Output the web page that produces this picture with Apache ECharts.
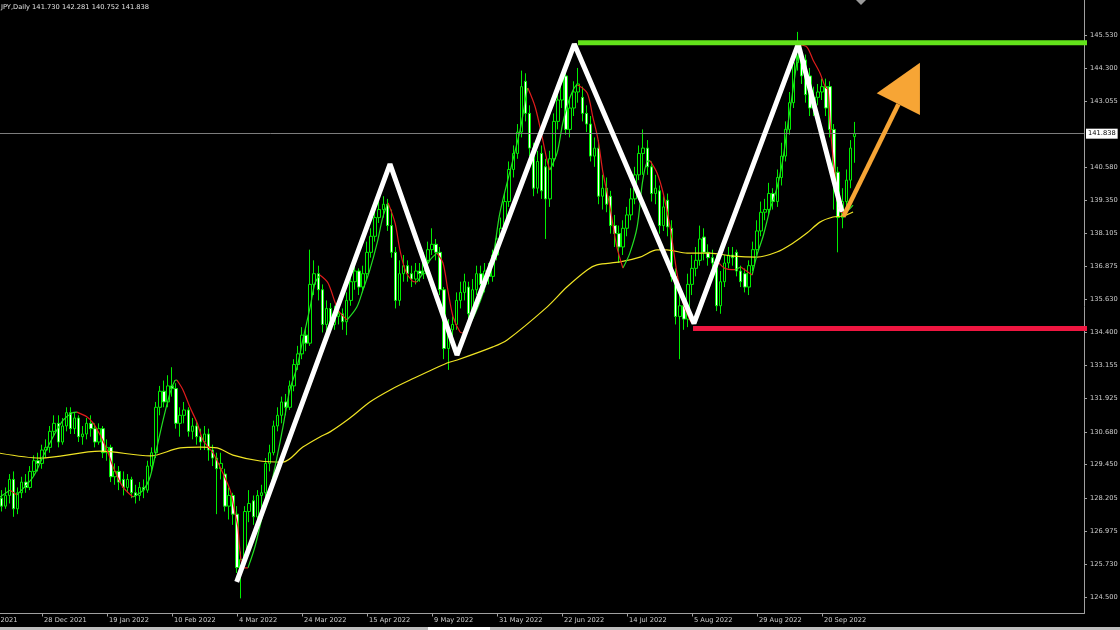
<!DOCTYPE html>
<html><head><meta charset="utf-8">
<script src="https://cdn.jsdelivr.net/npm/echarts@6/dist/echarts.min.js"></script>
<style>html,body{margin:0;padding:0;background:#000;}#c{width:1120px;height:630px;}</style>
</head><body><div id="c"></div>
<script>
// ---------- data ----------
const chartTitle = 'JPY,Daily 141.730 142.281 140.752 141.838';
const barCount = 273;            // bar slots across the plot (incl. empty right margin)
const firstBar = 6;              // index of the first candle in `candles`
const tickStep = 16;             // bars between date labels
const tickLabels = ['6 Dec 2021','28 Dec 2021','19 Jan 2022','10 Feb 2022','4 Mar 2022','24 Mar 2022',
  '15 Apr 2022','9 May 2022','31 May 2022','22 Jun 2022','14 Jul 2022','5 Aug 2022','29 Aug 2022','20 Sep 2022'];
const priceTicks = [124.5,125.73,126.975,128.205,129.45,130.68,131.925,133.155,134.4,135.63,136.875,
  138.105,139.35,140.58,143.055,144.3,145.53];
const lastPrice = 141.838;

// [open, close, low, high]
const candles = [
[128.2,127.9,127.7,128.5],[127.9,128.3,127.8,128.6],[128.3,128.9,128.0,129.1],[128.9,127.8,127.5,129.2],
[127.8,128.4,127.6,128.6],[128.4,128.8,128.2,129.0],[128.8,128.6,128.4,129.1],[128.6,129.2,128.5,129.4],
[129.2,129.6,129.0,129.8],[129.6,129.5,129.2,129.9],[129.5,130.0,129.3,130.2],[130.0,130.1,129.7,130.4],
[130.1,130.7,129.9,130.9],[130.7,131.0,130.5,131.3],[131.0,130.3,130.1,131.3],[130.3,130.9,130.2,131.2],
[130.9,131.4,130.7,131.6],[131.4,130.8,130.6,131.6],[130.8,131.2,130.6,131.4],[131.2,130.5,130.3,131.3],
[130.5,130.6,130.2,130.9],[130.6,131.0,130.4,131.2],[131.0,130.8,130.5,131.3],[130.8,130.3,130.1,131.0],
[130.3,130.8,130.2,131.0],[130.8,129.9,129.7,130.9],[129.9,130.1,129.6,130.4],[130.1,129.0,128.8,130.2],
[129.0,129.2,128.7,129.5],[129.2,128.8,128.5,129.4],[128.9,128.6,128.3,129.2],[128.6,128.9,128.4,129.1],
[128.9,128.4,128.2,129.0],[128.4,128.3,128.0,128.7],[128.3,128.6,128.1,128.8],[128.6,128.5,128.2,128.9],
[128.5,129.4,128.4,129.6],[129.4,129.9,129.2,130.1],[129.9,131.6,129.7,131.8],[131.6,132.2,131.3,132.4],
[132.2,131.8,131.6,132.6],[131.8,132.4,131.6,132.8],[132.4,132.3,132.0,133.1],[132.3,131.0,130.8,132.5],
[131.0,131.3,130.5,131.6],[131.3,131.5,131.0,131.8],[131.5,130.7,130.5,131.6],[130.7,130.9,130.4,131.2],
[130.9,130.5,130.2,131.1],[130.5,130.3,130.0,130.8],[130.3,130.6,130.0,130.9],[130.6,130.0,129.6,130.8],
[130.0,129.7,129.4,130.2],[129.7,129.3,127.6,129.9],[129.3,129.5,128.9,129.9],[129.1,127.9,127.7,129.3],
[127.9,128.3,127.4,128.6],[128.3,127.6,127.2,128.4],[127.6,125.6,125.4,127.9],[125.6,125.9,124.45,126.2],
[125.9,127.7,125.8,127.9],[127.7,128.0,127.3,128.5],[128.1,127.5,127.2,128.3],[127.5,128.3,127.3,128.5],
[128.3,128.4,127.8,128.7],[128.4,129.5,128.2,129.7],[129.5,129.9,129.2,130.2],[129.9,130.9,129.8,131.1],
[130.9,131.3,130.7,131.6],[131.3,131.8,131.0,132.0],[131.8,131.6,131.3,132.1],[131.6,132.4,131.5,132.6],
[132.4,133.2,132.2,133.4],[133.2,133.6,133.0,133.9],[133.6,134.3,133.4,134.6],[134.3,134.0,133.7,134.6],
[134.0,136.2,133.9,137.5],[136.2,136.6,135.8,137.1],[136.6,136.0,135.6,136.9],[136.0,134.7,134.4,136.2],
[134.7,135.3,134.3,135.6],[135.3,134.7,134.5,135.5],[134.7,135.0,134.5,135.4],[135.0,135.1,134.7,135.5],
[135.1,134.8,134.5,135.3],[134.8,135.6,134.3,135.9],[135.6,136.3,135.4,136.6],[136.3,136.7,136.0,137.0],
[136.7,136.1,135.8,136.8],[136.1,136.6,135.9,136.9],[136.6,137.4,136.4,137.8],[137.4,138.0,137.2,138.3],
[138.0,138.7,137.8,139.0],[138.7,139.0,138.5,139.3],[139.0,139.2,138.7,139.5],[139.2,138.4,138.2,139.4],
[138.4,137.4,137.2,139.0],[137.4,135.6,135.3,137.6],[135.6,136.6,135.4,137.1],[136.6,136.9,136.3,137.3],
[136.9,136.6,136.3,137.1],[136.6,136.4,136.1,136.9],[136.4,136.7,136.2,137.0],[136.7,136.6,136.3,137.0],
[136.6,137.1,136.4,137.4],[137.1,137.5,136.9,137.8],[137.5,137.7,137.3,138.3],[137.7,137.4,137.1,137.9],
[137.4,136.0,135.8,137.6],[136.0,133.8,133.4,136.1],[133.8,134.5,133.0,134.9],[134.5,134.7,134.0,135.0],
[134.7,135.6,134.5,135.9],[135.6,135.9,135.3,136.3],[135.9,136.3,135.6,136.6],[136.1,135.1,134.9,136.3],
[135.1,136.0,134.9,136.4],[136.0,136.6,135.8,136.9],[136.6,136.2,135.9,136.9],[136.2,136.7,135.9,137.0],
[136.7,136.5,136.2,137.0],[136.5,137.3,136.3,137.5],[137.3,137.9,137.1,138.1],[137.9,138.3,137.7,138.7],
[138.3,139.3,138.2,139.6],[139.3,140.5,139.1,140.8],[140.5,141.1,140.2,141.4],[141.1,141.9,140.9,142.2],
[141.9,143.6,141.7,144.2],[143.8,142.6,142.3,144.1],[142.6,141.3,141.0,142.9],[141.3,139.8,139.5,141.5],
[139.8,140.8,139.6,141.2],[141.1,139.7,139.4,141.4],[140.6,139.4,137.9,140.9],[139.4,140.9,139.1,141.2],
[140.9,142.3,140.6,142.6],[142.3,143.1,142.0,143.5],[143.1,143.9,142.8,144.1],[144.0,142.0,141.8,144.2],
[142.0,142.8,141.7,143.2],[142.8,143.4,142.5,143.8],[143.4,143.7,143.0,144.3],[143.2,142.6,142.3,143.6],
[142.6,142.2,141.9,142.9],[142.2,141.0,140.8,142.5],[141.0,141.3,140.6,141.7],[141.3,139.5,139.2,141.6],
[139.5,139.8,139.0,140.3],[139.8,139.2,138.9,140.2],[139.5,138.4,138.1,139.7],[138.4,138.1,137.6,138.8],
[138.1,137.6,137.0,138.4],[137.6,138.3,137.3,138.6],[138.3,138.8,138.0,139.1],[138.8,139.4,138.6,139.8],
[139.4,140.3,139.2,140.6],[140.3,141.1,140.1,141.4],[141.1,141.3,140.3,142.0],[141.3,140.6,140.3,141.6],
[140.6,139.6,139.3,140.8],[139.6,139.8,139.2,140.3],[139.7,138.4,138.1,139.9],[138.4,139.1,138.2,139.5],
[139.35,138.35,138.0,139.6],[138.3,136.5,136.3,138.6],[136.5,135.0,134.7,136.8],[135.0,135.4,133.4,135.9],
[135.4,134.9,134.5,135.8],[134.9,136.2,134.6,136.6],[136.2,136.8,135.8,137.3],[136.8,137.1,136.5,137.6],
[137.1,137.9,136.9,138.4],[137.97,137.4,137.1,138.3],[137.4,137.2,136.9,137.7],[137.2,137.0,136.7,137.5],
[137.1,135.4,135.2,137.3],[135.4,136.3,135.1,136.7],[136.3,137.0,136.1,137.3],[137.0,137.3,136.8,137.6],
[137.3,137.2,136.9,137.6],[137.4,136.7,136.5,137.5],[136.7,136.3,136.1,136.9],[136.6,136.1,135.9,136.8],
[136.1,136.9,135.8,137.1],[136.9,137.5,136.7,137.8],[137.5,138.2,137.3,138.6],[138.2,138.9,138.0,139.3],
[138.9,139.0,138.6,139.4],[139.0,139.6,138.8,140.0],[139.6,139.3,139.0,139.8],[139.3,140.2,139.1,140.5],
[140.2,141.0,139.9,141.5],[141.0,142.0,140.8,142.3],[142.0,143.0,141.8,143.4],[143.0,144.5,142.8,144.8],
[144.5,145.1,144.2,145.65],[144.7,144.0,143.7,145.0],[144.6,143.3,143.0,144.8],[144.0,142.8,142.5,144.3],
[142.8,143.2,142.5,143.6],[143.2,143.4,142.9,143.7],[143.4,143.6,143.1,143.9],[143.6,142.8,142.5,143.9],
[143.6,142.0,141.7,143.8],[142.0,140.0,139.0,142.2],[140.4,138.7,137.4,140.6],[138.7,139.3,138.3,139.8],
[139.3,140.1,139.0,140.5],[140.1,141.3,139.8,141.6],[141.73,141.838,140.752,142.281]
];

// long moving average (yellow): [bar position, price]
const maSlow = [[5.65,129.88],[15.5,129.7],[30.3,129.96],[42.6,129.78],[50.0,130.08],[54.9,130.11],[59.1,130.08],
  [63.0,129.81],[69.7,129.59],[75.3,129.55],[80.2,130.11],[84.4,130.49],[86.9,130.68],[91.8,131.2],[96.7,131.8],
  [101.7,132.25],[106.6,132.62],[115.7,133.26],[118.2,133.37],[127.0,133.86],[130.5,134.12],[140.3,135.35],
  [145.2,136.1],[150.2,136.74],[152.6,136.93],[158.3,137.04],[163.2,137.22],[167.4,137.49],[169.8,137.49],
  [174.8,137.37],[180.4,137.37],[186.1,137.26],[192.0,137.22],[196.9,137.41],[200.9,137.75],[204.3,138.12],
  [207.5,138.53],[210.7,138.72],[213.2,138.76],[215.65,138.91]];

// short moving average, rising stretches (green)
const maFastUp = [
  [[5.65,128.24],[8.1,128.5]],
  [[9.8,128.32],[13.8,128.99],[16.2,129.74],[18.7,130.49],[21.2,131.12],[23.4,131.39],[24.6,131.42]],
  [[38.4,128.24],[40.9,128.5],[42.6,128.99],[44.3,130.11],[45.8,131.12],[47.5,132.13],[48.7,132.6],[49.2,132.62]],
  [[66.7,125.59],[68.4,126.37],[70.2,127.49],[72.1,128.5],[73.8,129.7],[75.3,130.86],[77.0,132.25],[78.8,133.11],
   [80.2,134.12],[82.0,135.35],[83.2,136.25],[84.4,136.55]],
  [[91.1,134.87],[93.5,135.35],[95.0,135.99],[96.7,136.74],[98.5,137.75],[99.9,138.72],[101.2,139.25]],
  [[108.3,136.29],[109.8,136.63],[111.5,137.11],[113.2,137.37]],
  [[119.6,134.38],[122.1,134.94],[124.6,135.88],[127.0,137.22],[128.7,138.87],[131.9,140.85],[133.7,141.98],
   [135.4,143.47],[135.6,143.55]],
  [[141.0,140.48],[142.8,141.12],[144.2,142.24],[146.0,143.21],[147.7,143.66],[147.9,143.66]],
  [[159.0,136.81],[160.7,137.37],[162.5,138.35],[163.9,140.11],[165.2,140.82],[165.7,140.82]],
  [[176.2,134.72],[178.0,135.43],[179.7,136.18],[181.2,136.81],[182.4,137.04]],
  [[186.6,136.75],[188.0,136.85]],
  [[190.8,136.55],[192.0,137.3],[193.5,138.0],[195.2,139.0],[196.9,139.8],[198.4,140.9],[199.4,141.98],
   [200.6,143.21],[201.9,144.6],[202.6,145.16]],
  [[213.2,138.87],[214.4,138.97],[215.65,139.17]]
];
// short moving average, falling stretches (red)
const maFastDown = [
  [[8.1,128.5],[9.8,128.32]],
  [[24.6,131.42],[27.1,131.24],[28.6,131.01],[30.3,130.56],[32.0,130.0],[33.5,129.37],[35.9,128.62],[38.4,128.24]],
  [[49.2,132.62],[50.7,132.25],[52.4,131.61],[54.2,131.01],[55.6,130.38],[58.1,129.89],[59.8,129.37],[62.3,128.5],
   [63.5,127.64],[64.2,127.12],[64.7,126.26],[65.5,125.59],[66.7,125.59]],
  [[84.4,136.55],[86.4,136.25],[88.9,135.24],[91.1,134.87]],
  [[101.2,139.25],[102.9,138.5],[104.1,137.49],[105.4,136.74],[107.1,136.33],[108.3,136.29]],
  [[113.2,137.37],[114.7,137.0],[115.9,135.99],[117.2,134.98],[118.9,134.42],[119.6,134.38]],
  [[135.6,143.55],[137.4,142.84],[139.1,141.72],[140.3,140.85],[141.0,140.48]],
  [[147.9,143.66],[150.2,143.36],[151.6,142.46],[152.9,141.6],[154.1,140.37],[155.8,139.1],[157.5,137.6],[159.0,136.81]],
  [[165.7,140.82],[167.4,140.37],[168.9,139.62],[170.6,138.35],[172.3,136.63],[173.8,135.5],[175.5,134.87],[176.2,134.72]],
  [[182.4,137.04],[184.1,136.8],[186.6,136.75]],
  [[188.0,136.85],[190.8,136.55]],
  [[202.6,145.16],[204.3,145.08],[205.8,144.6],[207.5,144.11],[208.8,143.59],[209.5,143.47],[210.0,142.24],
   [210.7,140.97],[211.7,139.73],[212.4,138.97],[213.2,138.87]]
];

// drawn annotations (bar position, price)
const zigzag = [[63.92,125.07],[101.66,140.705],[118.15,133.557],[147.03,145.196],[176.49,134.736],[202.15,145.196],[212.92,138.909]];
const resistanceLine = [[147.93,145.245],[281.4,145.245]];
const supportLine = [[176.25,134.549],[281.4,134.549]];
const arrowShaft = [[213.23,138.733],[226.81,142.943]];
const arrowHead = [[232.12,144.496,221.47,143.35,232.12,142.54]];

// ---------- chart ----------
const FONT = 'DejaVu Sans';
const FS = 6.7;
const AX = '#a0a0a0';
const TXT = '#cfcfcf';
const cats = Array.from({length: barCount}, (_, i) => String(i));
const showTick = (idx) => idx % tickStep === 0 && idx / tickStep < tickLabels.length;

const series = [];
series.push({
  type: 'candlestick', xAxisIndex: 0, yAxisIndex: 0, z: 2,
  data: candles.map((c, k) => [k + firstBar, c[0], c[1], c[2], c[3]]),
  encode: { x: 0, y: [1, 2, 3, 4] },
  barWidth: 3,
  itemStyle: { color: '#000000', color0: '#ffffff', borderColor: '#00ee00', borderColor0: '#00ee00', borderWidth: 1 },
  markLine: {
    silent: true, symbol: 'none', animation: false,
    data: [{ yAxis: lastPrice }],
    lineStyle: { color: '#7c7c7c', width: 1, type: 'solid' },
    label: { show: true, position: 'end', distance: 2, formatter: lastPrice.toFixed(3),
      backgroundColor: '#ffffff', color: '#000000', fontSize: FS, fontFamily: FONT, padding: [2, 2, 1, 2] },
    emphasis: { disabled: true }
  }
});
series.push({
  type: 'line', xAxisIndex: 1, yAxisIndex: 0, z: 3, data: maSlow, smooth: 0.3, symbol: 'none',
  lineStyle: { color: '#f0e424', width: 1.2 }, silent: true
});
maFastUp.forEach(seg => series.push({
  type: 'line', xAxisIndex: 1, yAxisIndex: 0, z: 3, data: seg, smooth: 0.3, symbol: 'none',
  lineStyle: { color: '#22e022', width: 1.2 }, silent: true
}));
maFastDown.forEach(seg => series.push({
  type: 'line', xAxisIndex: 1, yAxisIndex: 0, z: 3, data: seg, smooth: 0.3, symbol: 'none',
  lineStyle: { color: '#e01c1c', width: 1.2 }, silent: true
}));
series.push({
  type: 'line', xAxisIndex: 1, yAxisIndex: 0, z: 5, data: zigzag, symbol: 'none', silent: true,
  lineStyle: { color: '#ffffff', width: 5, cap: 'butt', join: 'bevel' }
});
series.push({
  type: 'line', xAxisIndex: 1, yAxisIndex: 0, z: 5, data: resistanceLine, symbol: 'none', silent: true, clip: false,
  lineStyle: { color: '#62e21a', width: 5, cap: 'butt' }
});
series.push({
  type: 'line', xAxisIndex: 1, yAxisIndex: 0, z: 5, data: supportLine, symbol: 'none', silent: true, clip: false,
  lineStyle: { color: '#ee1640', width: 5, cap: 'butt' }
});
series.push({
  type: 'line', xAxisIndex: 1, yAxisIndex: 0, z: 6, data: arrowShaft, symbol: 'none', silent: true,
  lineStyle: { color: '#f7a535', width: 4.5, cap: 'butt' }
});
series.push({
  type: 'custom', xAxisIndex: 1, yAxisIndex: 0, z: 6, data: arrowHead, silent: true,
  renderItem: (params, api) => ({
    type: 'polygon',
    shape: { points: [api.coord([api.value(0), api.value(1)]), api.coord([api.value(2), api.value(3)]), api.coord([api.value(4), api.value(5)])] },
    style: { fill: '#f7a535' }
  })
});

const chart = echarts.init(document.getElementById('c'), null, { renderer: 'canvas' });
chart.setOption({
  animation: false,
  backgroundColor: '#000000',
  title: { text: chartTitle, left: 1, top: 4, padding: 0,
    textStyle: { color: '#e2e2e2', fontSize: FS, fontWeight: 'normal', fontFamily: FONT } },
  grid: { left: -25, right: 36, top: 0, bottom: 16.5, containLabel: false, outerBoundsMode: 'none' },
  xAxis: [
    { type: 'category', data: cats, boundaryGap: true,
      axisLine: { show: true, onZero: false, lineStyle: { color: AX, width: 1 } },
      axisTick: { show: true, alignWithLabel: true, interval: showTick, length: 3, lineStyle: { color: AX } },
      axisLabel: { show: true, interval: showTick, formatter: (v) => tickLabels[Number(v) / tickStep] || '',
        align: 'left', margin: 3, padding: [0, 0, 0, 2], color: TXT, fontSize: FS, fontFamily: FONT, hideOverlap: false },
      splitLine: { show: false } },
    { type: 'value', min: -0.5, max: barCount - 0.5, show: false, gridIndex: 0,
      axisLine: { onZero: false } }
  ],
  yAxis: { type: 'value', position: 'right', min: 123.8825, max: 146.843, scale: true,
    axisLine: { show: true, onZero: false, lineStyle: { color: AX, width: 1 } },
    axisTick: { show: true, length: 3, customValues: priceTicks, lineStyle: { color: AX } },
    axisLabel: { show: true, customValues: priceTicks, formatter: (v) => Number(v).toFixed(3),
      margin: 6, color: TXT, fontSize: FS, fontFamily: FONT },
    splitLine: { show: false } },
  graphic: [
    { type: 'polygon', shape: { points: [[856, 0], [866, 0], [861, 5]] }, style: { fill: '#9a9a9a' }, silent: true },
    { type: 'rect', shape: { x: 0, y: 627, width: 1120, height: 3 }, style: { fill: '#bdbdbd' }, silent: true },
    { type: 'rect', shape: { x: 428, y: 627, width: 62, height: 3 }, style: { fill: '#ffffff' }, silent: true }
  ],
  series: series
});
</script></body></html>
